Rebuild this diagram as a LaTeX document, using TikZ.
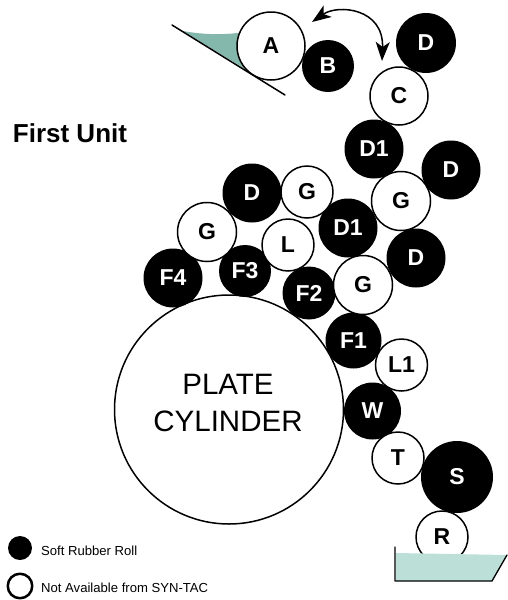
\documentclass[tikz,border=0pt]{standalone}
\usepackage{fontspec}
\setmainfont{Liberation Sans}
\usetikzlibrary{arrows.meta}
\definecolor{inkteal}{HTML}{84B8AC}
\definecolor{trayteal}{HTML}{BCE0D8}
\tikzset{
	softroll/.style={circle,fill=black,text=white,inner sep=0pt,font=\fontsize{23}{25}\bfseries\selectfont},
	plainroll/.style={circle,draw=black,line width=1.5pt,fill=white,text=black,inner sep=0pt,font=\fontsize{23}{25}\bfseries\selectfont},
	keytext/.style={right,inner sep=0pt,font=\fontsize{13.1}{15}\selectfont},
}
\begin{document}
\begin{tikzpicture}[line cap=round,line join=round,>={Stealth[length=19pt,width=14pt,inset=5pt]},x=1pt,y=-1pt]
		\useasboundingbox (0,0) rectangle (507,600);

		%ink at blade
		\fill[color=inkteal] (183,31) .. controls (205,35) and (225,35) .. (245,32) -- (250,72) -- cycle;

		%cylinder
		\node[circle,draw=black,line width=1.5pt,fill=white,inner sep=0pt,minimum size=229pt] (plate) at (229,409.5) {};
		\node[font=\fontsize{29.5}{37}\selectfont,align=center] (platetext) at (228,403) {PLATE\\CYLINDER};

		%soft rolls
		\node[softroll,minimum size=52pt] (rollB) at (328,66) {B};
		\node[softroll,minimum size=60pt] (rollDa) at (426,43) {D};
		\node[softroll,minimum size=59pt] (rollDb) at (374,149) {D1};
		\node[softroll,minimum size=59pt] (rollDc) at (451,170) {D};
		\node[softroll,minimum size=59pt] (rollDd) at (348,228) {D1};
		\node[softroll,minimum size=59pt] (rollDe) at (416,258) {D};
		\node[softroll,minimum size=59pt] (rollDf) at (252,193) {D};
		\node[softroll,minimum size=52pt] (rollFc) at (245,271) {F3};
		\node[softroll,minimum size=59pt] (rollFd) at (173,278) {F4};
		\node[softroll,minimum size=53pt] (rollFb) at (309,293) {F2};
		\node[softroll,minimum size=56pt] (rollFa) at (353.5,340.5) {F1};
		\node[softroll,minimum size=57pt] (rollW) at (372.5,411) {W};

		%other rolls
		\node[plainroll,minimum size=68pt] (rollA) at (271,46) {A};
		\node[plainroll,minimum size=58pt] (rollC) at (399,96) {C};
		\node[plainroll,minimum size=59pt] (rollGa) at (401,201) {G};
		\node[plainroll,minimum size=59pt] (rollGb) at (363,285) {G};
		\node[plainroll,minimum size=52pt] (rollGc) at (307,192) {G};
		\node[plainroll,minimum size=59pt] (rollGd) at (207,232) {G};
		\node[plainroll,minimum size=52pt] (rollL) at (288,245) {L};
		\node[plainroll,minimum size=52pt] (rollLa) at (401.5,365) {L1};
		\node[plainroll,minimum size=52pt] (rollT) at (398,458) {T};
		\node[softroll,minimum size=72pt] (rollS) at (457,477) {S};
		\node[plainroll,minimum size=52pt] (rollR) at (442,537) {R};

		%blade
		\coordinate (bladeA) at (172,25);
		\coordinate (bladeB) at (285,95);
		\draw[line width=1.5pt] (bladeA) -- (bladeB);

		%swing of roll
		\coordinate (swingA) at (312,22);
		\coordinate (swingB) at (382,61);
		\draw[<->,line width=1.5pt] (swingA) .. controls (338,4) and (384,8) .. (swingB);

		%tray
		\fill[color=trayteal] (396,553) -- (507,555) -- (492,581) -- (396,581) -- cycle;
		\draw[line width=1.3pt] (395,547) -- (395,581) -- (492,581) -- (507,555);

		%legend
		\node[softroll,minimum size=24pt] (keysoft) at (20,548) {};
		\node[plainroll,line width=2.5pt,minimum size=24.5pt] (keyplain) at (20,586) {};
		\node[keytext] (keysofttext) at (41,550.5) {Soft Rubber Roll};
		\node[keytext] (keyplaintext) at (41,587.5) {Not Available from SYN-TAC};

		\node[font=\fontsize{26}{30}\bfseries\selectfont] (unit) at (70,133.5) {First Unit};
	\end{tikzpicture}
\end{document}
